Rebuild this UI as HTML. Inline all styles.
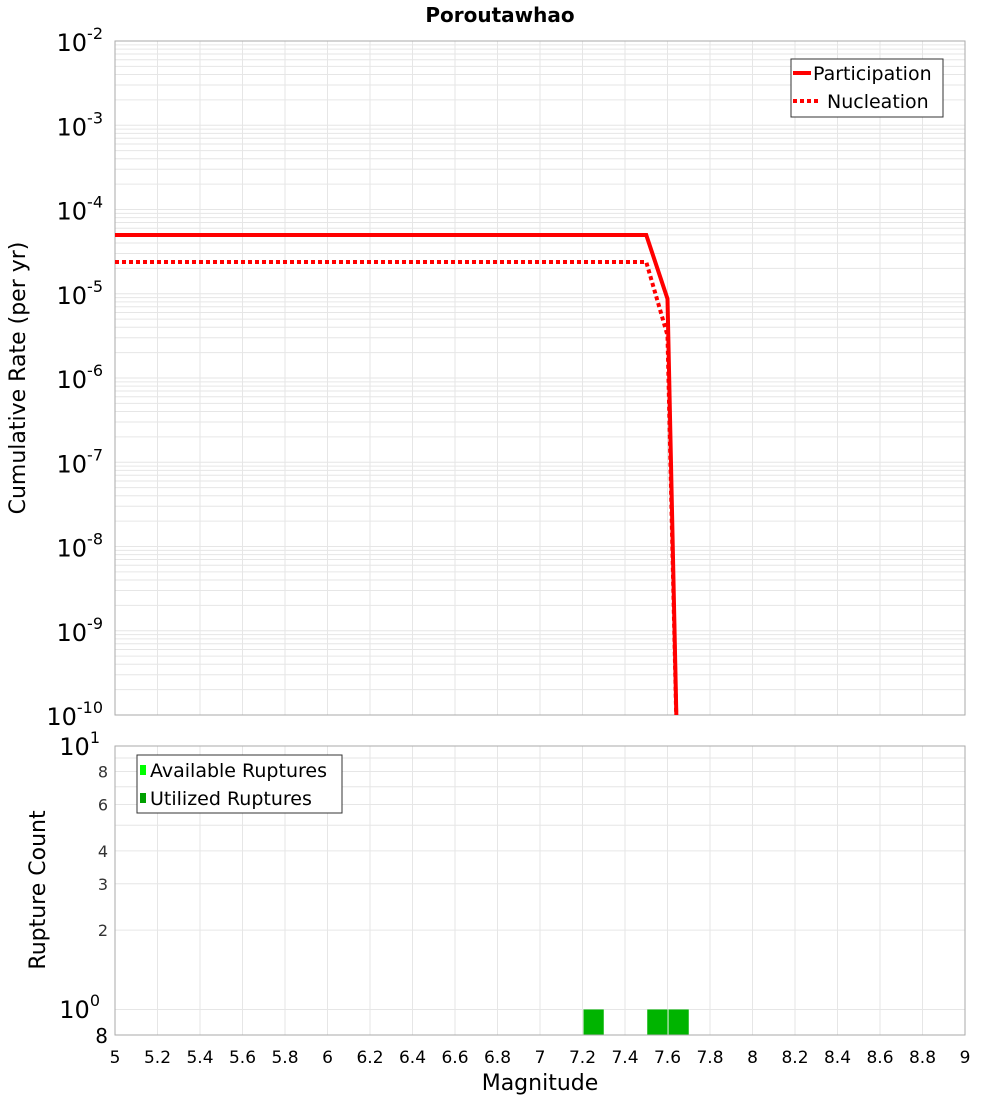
<!DOCTYPE html>
<html><head><meta charset="utf-8"><style>
body{margin:0;background:#fff;font-family:"DejaVu Sans","Liberation Sans",sans-serif;}
</style></head><body>
<svg id="c" width="1000" height="1100" xmlns="http://www.w3.org/2000/svg" font-family="DejaVu Sans, Liberation Sans, sans-serif">
<text x="500" y="22" text-anchor="middle" font-size="20" font-weight="bold">Poroutawhao</text>
<g id="topg"></g><g id="botg"></g>
<text transform="translate(25,378) rotate(-90)" text-anchor="middle" font-size="22">Cumulative Rate (per yr)</text>
<text transform="translate(45,890) rotate(-90)" text-anchor="middle" font-size="22">Rupture Count</text>
<text x="540" y="1090" text-anchor="middle" font-size="22">Magnitude</text>
</svg>
<script>
const partMags=[5,7.5,7.6,7.65];
const partRates=[4.98e-5,4.98e-5,8.7e-6,1e-11];
const nuclMags=[5,7.5,7.6,7.65];
const nuclRates=[2.38e-5,2.38e-5,3.2e-6,1e-11];
const barMags=[7.25,7.55,7.65];
const barCounts=[1,1,1];
const xTicks=[5,5.2,5.4,5.6,5.8,6,6.2,6.4,6.6,6.8,7,7.2,7.4,7.6,7.8,8,8.2,8.4,8.6,8.8,9];
const topExps=[-10,-9,-8,-7,-6,-5,-4,-3,-2];
const botTicks=[2,3,4,6,8];

const NS="http://www.w3.org/2000/svg";
const L=115,R=965,T1=41,B1=715,T2=746,B2=1035;
const xs=m=>L+(m-5)/4*(R-L);
const y1=v=>B1-(Math.log10(v)+10)/8*(B1-T1);
const lb=Math.log10(0.8);
const y2=v=>B2-(Math.log10(v)-lb)/(1-lb)*(B2-T2);
function mk(p,t,a){const e=document.createElementNS(NS,t);for(const k in a)e.setAttribute(k,a[k]);p.appendChild(e);return e;}
const gTop=document.getElementById('topg'),gBot=document.getElementById('botg');
const defs=mk(gTop,'defs',{});
const cp=mk(defs,'clipPath',{id:'cp1'});mk(cp,'rect',{x:L,y:T1,width:R-L,height:B1-T1});
for(let e=-10;e<-2;e++)for(let k=1;k<10;k++){const y=y1(k*Math.pow(10,e));const g=mk(gTop,'line',{x1:L,x2:R,y1:y,y2:y,stroke:'#e6e6e6','stroke-width':1});

}
xTicks.forEach(m=>{const g=mk(gTop,'line',{x1:xs(m),x2:xs(m),y1:T1,y2:B1,stroke:'#e6e6e6'});


const g2=mk(gBot,'line',{x1:xs(m),x2:xs(m),y1:T2,y2:B2,stroke:'#e6e6e6'});


const tx=mk(gBot,'text',{x:xs(m),y:1063,'text-anchor':'middle','font-size':17});tx.textContent=String(m);

});
const fr=mk(gTop,'rect',{x:L,y:T1,width:R-L,height:B1-T1,fill:'none',stroke:'#aaa'});


topExps.forEach(e=>{const y=y1(Math.pow(10,e));const tx=mk(gTop,'text',{x:103,y:y+10,'text-anchor':'end','font-size':24});
tx.innerHTML='10<tspan dy="-12" font-size="16">'+e+'</tspan>';

});
function line(ms,rs,dash,name){const pts=ms.map((m,i)=>xs(m)+','+y1(rs[i])).join(' ');
const p=mk(gTop,'polyline',{points:pts,fill:'none',stroke:'#ff0000','stroke-width':4,'clip-path':'url(#cp1)'});if(dash)p.setAttribute('stroke-dasharray','4,3');

}
line(nuclMags,nuclRates,true,'nucleation-line');
line(partMags,partRates,false,'participation-line');
const lg=mk(gTop,'g',{});


mk(lg,'rect',{x:791,y:59,width:152,height:58,fill:'#fff',stroke:'#333'});
mk(lg,'line',{x1:793,x2:811,y1:73,y2:73,stroke:'#f00','stroke-width':4});
mk(lg,'line',{x1:793,x2:821,y1:101,y2:101,stroke:'#f00','stroke-width':4,'stroke-dasharray':'4,3'});
let t=mk(lg,'text',{x:813,y:80,'font-size':19});t.textContent='Participation';
t=mk(lg,'text',{x:827,y:108,'font-size':19});t.textContent='Nucleation';
for(let k=1;k<=10;k++){const y=y2(k);const g=mk(gBot,'line',{x1:L,x2:R,y1:y,y2:y,stroke:'#e6e6e6'});

}
barMags.forEach((m,i)=>{const b=mk(gBot,'rect',{x:xs(m-0.05)+1,y:y2(barCounts[i]),width:xs(m+0.05)-xs(m-0.05)-1,height:B2-y2(barCounts[i]),fill:'#00b400'});

});
const fr2=mk(gBot,'rect',{x:L,y:T2,width:R-L,height:B2-T2,fill:'none',stroke:'#aaa'});


botTicks.forEach(v=>{const tx=mk(gBot,'text',{x:108,y:y2(v)+6,'text-anchor':'end','font-size':16,fill:'#333'});tx.textContent=v;

});
t=mk(gBot,'text',{x:100,y:755,'text-anchor':'end','font-size':24});t.innerHTML='10<tspan dy="-12" font-size="16">1</tspan>';


t=mk(gBot,'text',{x:100,y:1018,'text-anchor':'end','font-size':24});t.innerHTML='10<tspan dy="-12" font-size="16">0</tspan>';


t=mk(gBot,'text',{x:108,y:1043,'text-anchor':'end','font-size':20});t.textContent='8';


const lg2=mk(gBot,'g',{});


mk(lg2,'rect',{x:137,y:755,width:205,height:58,fill:'#fff',stroke:'#333'});
mk(lg2,'rect',{x:140,y:765,width:6,height:10,fill:'#00ff00'});
mk(lg2,'rect',{x:140,y:793,width:6,height:10,fill:'#00a000'});
t=mk(lg2,'text',{x:150,y:777,'font-size':19});t.textContent='Available Ruptures';
t=mk(lg2,'text',{x:150,y:805,'font-size':19});t.textContent='Utilized Ruptures';
</script>
</body></html>
